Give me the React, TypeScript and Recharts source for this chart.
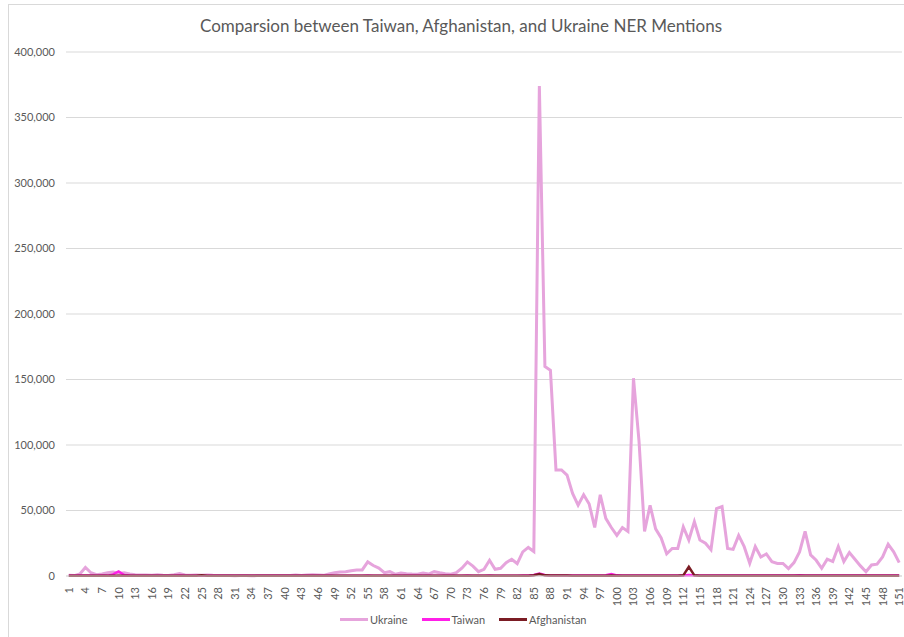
import { CartesianGrid, Line, LineChart, XAxis, YAxis } from "recharts";

// NER mention counts per day index (1..151)
const days: number[] = Array.from({ length: 151 }, (_, i) => i + 1);

const ukraine: number[] = [
  500, 300, 1500, 6500, 2500, 1000, 1500, 2500, 3000, 2000,
  2500, 1500, 1000, 800, 700, 600, 900, 600, 400, 1000,
  1800, 800, 600, 700, 600, 800, 500, 400, 300, 300,
  200, 300, 300, 200, 300, 300, 300, 400, 300, 400,
  300, 800, 300, 700, 1000, 800, 500, 1500, 2500, 3000,
  3300, 4000, 4600, 4600, 10750, 8000, 6000, 2500, 3300, 1300,
  2300, 1800, 1500, 1300, 2300, 1500, 3300, 2500, 1800, 1300,
  2500, 6000, 10750, 7500, 3300, 5100, 12000, 5100, 5900, 10200,
  12800, 9500, 18400, 21800, 18700, 374000, 160000, 157000, 81000, 81000,
  77000, 63000, 54000, 62000, 55000, 37000, 62000, 44000, 37000, 31000,
  37000, 34000, 151000, 103000, 34000, 54000, 36000, 29000, 17000, 21000,
  21000, 37500, 27500, 41500, 27500, 25000, 20000, 51500, 53000, 21000,
  20300, 31000, 22400, 9700, 22400, 14500, 16800, 10900, 9600, 9600,
  5700, 10200, 18400, 34000, 16100, 12000, 5900, 12800, 11000, 22500,
  11000, 17900, 12800, 7700, 3300, 8400, 9000, 14600, 24300, 18400,
  10200,
];

const taiwan: number[] = [
  200, 200, 300, 400, 300, 200, 300, 300, 1200, 3500,
  800, 300, 200, 200, 200, 200, 200, 200, 200, 200,
  300, 200, 200, 200, 200, 200, 200, 200, 200, 200,
  200, 200, 200, 200, 200, 200, 200, 200, 200, 200,
  200, 200, 200, 200, 200, 200, 200, 200, 200, 200,
  200, 200, 200, 200, 300, 200, 200, 200, 200, 200,
  200, 200, 200, 200, 200, 200, 200, 200, 200, 200,
  200, 200, 300, 200, 200, 200, 300, 200, 200, 200,
  200, 200, 300, 300, 800, 1800, 800, 300, 300, 300,
  300, 300, 300, 300, 300, 300, 300, 600, 1500, 500,
  300, 300, 300, 300, 300, 300, 300, 300, 300, 300,
  300, 300, 700, 300, 300, 300, 300, 300, 300, 300,
  300, 300, 300, 300, 300, 300, 300, 300, 300, 300,
  300, 400, 500, 400, 300, 300, 300, 300, 300, 300,
  300, 300, 300, 300, 300, 300, 400, 400, 300, 300,
  300,
];

const afghanistan: number[] = [
  100, 100, 100, 100, 100, 100, 100, 100, 100, 100,
  100, 100, 100, 100, 100, 100, 100, 100, 100, 100,
  100, 100, 100, 200, 600, 200, 100, 100, 100, 100,
  100, 100, 100, 100, 100, 100, 100, 100, 100, 100,
  100, 100, 100, 100, 100, 100, 100, 100, 100, 100,
  100, 100, 100, 100, 100, 100, 100, 100, 100, 100,
  100, 100, 100, 100, 100, 100, 100, 100, 100, 100,
  100, 100, 100, 100, 100, 100, 100, 100, 100, 100,
  100, 100, 100, 200, 600, 1500, 500, 300, 300, 300,
  300, 200, 200, 200, 200, 200, 200, 200, 300, 200,
  200, 200, 200, 200, 200, 200, 200, 200, 200, 200,
  200, 500, 7000, 500, 200, 200, 200, 200, 200, 200,
  200, 200, 200, 200, 200, 200, 200, 200, 200, 200,
  200, 200, 200, 200, 200, 200, 200, 200, 200, 200,
  200, 200, 200, 200, 200, 200, 200, 200, 200, 200,
  200,
];

const yTicks: number[] = [0, 50000, 100000, 150000, 200000, 250000, 300000, 350000, 400000];

const seriesColors = {
  ukraine: "#E6A4DC",
  taiwan: "#FF1FE8",
  afghanistan: "#7B1C24",
};

const FONT = "Lato, 'Open Sans', sans-serif";
const TEXT = "#595959";

const data = days.map((d, i) => ({
  day: String(d),
  Ukraine: ukraine[i],
  Taiwan: taiwan[i],
  Afghanistan: afghanistan[i],
}));

function XTick(props: any) {
  const { x, y, payload } = props;
  return (
    <text
      transform={`translate(${x + 4},${y + 3}) rotate(-90)`}
      textAnchor="end"
      fontSize={11}
      fontFamily={FONT}
      fill={TEXT}
    >
      {payload.value}
    </text>
  );
}

const legendItems = [
  { name: "Ukraine", color: seriesColors.ukraine },
  { name: "Taiwan", color: seriesColors.taiwan },
  { name: "Afghanistan", color: seriesColors.afghanistan },
];

export default function App() {
  return (
    <div style={{ position: "absolute", left: 0, top: 0, width: 904, height: 637, background: "#fff", fontFamily: FONT, overflow: "hidden" }}>
      <div style={{ position: "absolute", left: 8, top: 4, width: 900, height: 640, borderLeft: "1px solid #D9D9D9", borderTop: "1px solid #D9D9D9" }} />
      <div style={{ position: "absolute", left: 0, top: 15, width: 922, textAlign: "center", fontSize: 17, color: TEXT }}>
        Comparsion between Taiwan, Afghanistan, and Ukraine NER Mentions
      </div>
      <LineChart width={904} height={637} data={data} margin={{ top: 52, right: 2, bottom: 31, left: 0 }}>
        <CartesianGrid vertical={false} stroke="#D9D9D9" />
        <XAxis
          dataKey="day"
          interval={2}
          tickLine={false}
          axisLine={{ stroke: "#D9D9D9" }}
          tick={<XTick />}
          height={30}
          padding={{ left: 2.8, right: 2.8 }}
        />
        <YAxis
          domain={[0, 400000]}
          ticks={yTicks}
          width={66}
          axisLine={false}
          tickLine={false}
          tickSize={0}
          tickMargin={11}
          tick={{ fontSize: 11, fill: TEXT, fontFamily: FONT }}
          tickFormatter={(v) => Number(v).toLocaleString("en-US")}
        />
        <Line type="linear" dataKey="Ukraine" stroke={seriesColors.ukraine} strokeWidth={3} dot={false} isAnimationActive={false} />
        <Line type="linear" dataKey="Taiwan" stroke={seriesColors.taiwan} strokeWidth={2.5} dot={false} isAnimationActive={false} />
        <Line type="linear" dataKey="Afghanistan" stroke={seriesColors.afghanistan} strokeWidth={2.5} dot={false} isAnimationActive={false} />
      </LineChart>
      <div style={{ position: "absolute", left: 340, top: 613, display: "flex", alignItems: "center", fontSize: 11, color: TEXT }}>
        {legendItems.map((it) => (
          <div key={it.name} style={{ display: "flex", alignItems: "center", marginRight: 14 }}>
            <span style={{ display: "inline-block", width: 28, height: 3, background: it.color, marginRight: 2 }} />
            <span>{it.name}</span>
          </div>
        ))}
      </div>
    </div>
  );
}
